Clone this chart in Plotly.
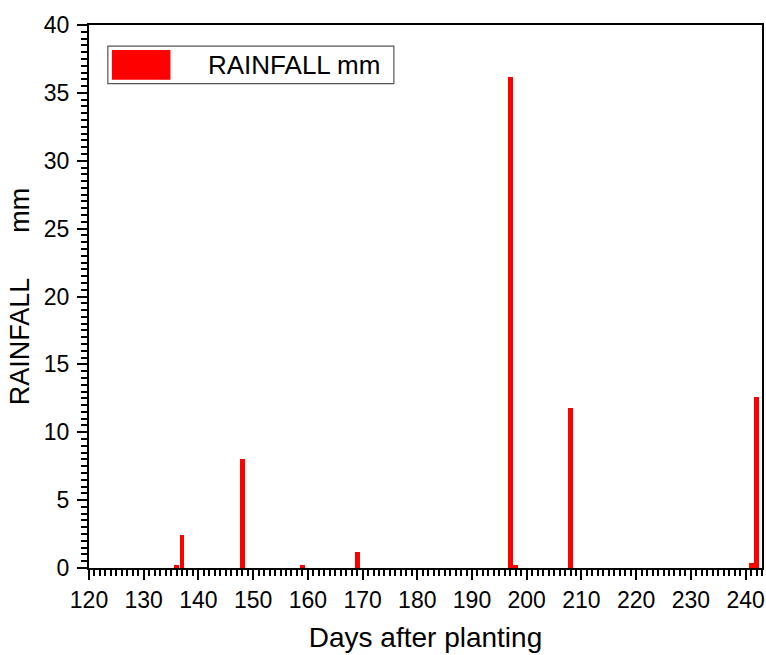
import plotly.graph_objects as go

# Daily rainfall events by days after planting
days = [136, 137, 148, 159, 169, 197, 198, 208, 241, 242]
rainfall_mm = [0.2, 2.4, 8.0, 0.2, 1.2, 36.2, 0.2, 11.8, 0.4, 12.6]

x_ticks = list(range(120, 241, 10))
y_ticks = list(range(0, 41, 5))

FONT = "Liberation Sans, Arial, sans-serif"

fig = go.Figure()
fig.add_trace(go.Bar(
    x=days, y=rainfall_mm, width=0.9,
    marker=dict(color="#ff0000", line=dict(width=0)),
    name="RAINFALL mm", showlegend=False,
))

axis_common = dict(
    showline=True, linecolor="black", linewidth=2, mirror=True,
    ticks="outside", ticklen=10, tickwidth=2, tickcolor="black",
    showgrid=False, zeroline=False,
    tickfont=dict(family=FONT, size=23, color="black"),
)

fig.update_xaxes(
    range=[120, 243], tickvals=x_ticks,
    minor=dict(dtick=1, ticks="outside", ticklen=6, tickwidth=1.5, tickcolor="black"),
    title=dict(text="Days after planting", font=dict(family=FONT, size=28, color="black"), standoff=16),
    **axis_common,
)
fig.update_yaxes(
    range=[0, 40], tickvals=y_ticks, ticklabelstandoff=3,
    minor=dict(dtick=0.5, ticks="outside", ticklen=6, tickwidth=1.5, tickcolor="black"),
    title=dict(text="RAINFALL" + "&nbsp;" * 6 + "mm",
               font=dict(family=FONT, size=27, color="black"), standoff=6),
    **axis_common,
)

# Legend box drawn in paper coordinates
fig.add_shape(type="rect", xref="paper", yref="paper",
              x0=0.028, x1=0.453, y0=0.892, y1=0.961,
              line=dict(color="#555555", width=1.2), fillcolor="white")
fig.add_shape(type="rect", xref="paper", yref="paper",
              x0=0.034, x1=0.121, y0=0.899, y1=0.954,
              line=dict(width=0), fillcolor="#ff0000")
fig.add_annotation(xref="paper", yref="paper", x=0.436, y=0.9265,
                   text="RAINFALL mm", showarrow=False, xanchor="right", yanchor="middle",
                   font=dict(family=FONT, size=26, color="black"))

fig.update_layout(
    width=766, height=655,
    margin=dict(l=89, r=2, t=25, b=87),
    plot_bgcolor="white", paper_bgcolor="white",
    bargap=0,
)

fig.write_html("out.html")
